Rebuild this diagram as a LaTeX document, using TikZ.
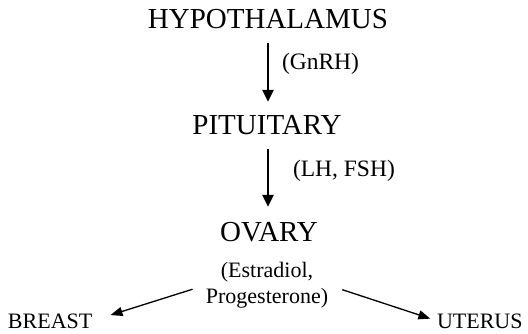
\documentclass[tikz,border=0pt]{standalone}
\usepackage{fontspec}
\setmainfont{Liberation Serif}
\usetikzlibrary{arrows.meta}
\begin{document}
\begin{tikzpicture}[x=1pt,y=-1pt,
  organ/.style={inner sep=0pt,outer sep=0pt,font=\fontsize{29}{34}\selectfont},
  hormone/.style={inner sep=0pt,outer sep=0pt,font=\fontsize{23.5}{27}\selectfont},
  secretion/.style={inner sep=0pt,outer sep=0pt,font=\fontsize{22}{26}\selectfont},
  target/.style={inner sep=0pt,outer sep=0pt,font=\fontsize{22}{26}\selectfont},
  vflow/.style={line width=2.6pt,-{Triangle[length=12pt,width=11pt]}},
  dflow/.style={line width=1.3pt,-{Triangle[length=12pt,width=9pt]}}]
\useasboundingbox (0,0) rectangle (528,334);
\node[organ,anchor=base] (hyp) at (268,29) {HYPOTHALAMUS};
\node[organ,anchor=base] (pit) at (267,135) {PITUITARY};
\node[organ,anchor=base] (ova) at (269,242) {OVARY};
\node[hormone,anchor=base west] (gnrh) at (282,70) {(GnRH)};
\node[hormone,anchor=base west] (lhfsh) at (293,177) {(LH, FSH)};
\node[secretion,align=center,anchor=north] (est) at (267,262) {(Estradiol,\\Progesterone)};
\node[target,anchor=base west] (breast) at (8,328) {BREAST};
\node[target,anchor=base west] (uterus) at (437,328) {UTERUS};
\draw[vflow,shorten <=14pt,shorten >=14pt] (hyp.south) -- (hyp.south |- pit.north);
\draw[vflow,shorten <=14pt,shorten >=16pt] (hyp.south |- pit.south) -- (hyp.south |- ova.north);
\draw[dflow,shorten <=14pt,shorten >=19pt] (est.west) -- (breast.east);
\draw[dflow,shorten <=15pt,shorten >=7pt] (est.east) -- (uterus.west);
\end{tikzpicture}
\end{document}
